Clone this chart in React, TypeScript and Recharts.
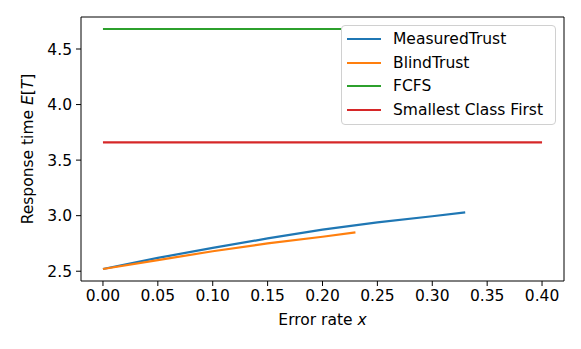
import React from "react";
import { LineChart, Line, XAxis, YAxis, Legend, ReferenceLine } from "recharts";

// Response time vs error rate
const measuredRates = [0, 0.05, 0.1, 0.15, 0.2, 0.25, 0.3, 0.33];
const measuredTrust = [2.52, 2.62, 2.71, 2.795, 2.875, 2.94, 2.995, 3.03];
const blindRates = [0, 0.05, 0.1, 0.15, 0.2, 0.23];
const blindTrust = [2.52, 2.6, 2.68, 2.75, 2.81, 2.85];
const baselineRates = [0, 0.4];
const fcfs = [4.68, 4.68];
const smallestClassFirst = [3.66, 3.66];

const xTicks = [0, 0.05, 0.1, 0.15, 0.2, 0.25, 0.3, 0.35, 0.4];
const yTicks = [2.5, 3.0, 3.5, 4.0, 4.5];
const xDomain = [-0.02, 0.42];
const yDomain = [2.412, 4.788];

const toPoints = (xs: number[], ys: number[]) =>
  xs.map((x, i) => ({ x, y: ys[i] }));

const series = [
  { name: "MeasuredTrust", color: "#1f77b4", data: toPoints(measuredRates, measuredTrust) },
  { name: "BlindTrust", color: "#ff7f0e", data: toPoints(blindRates, blindTrust) },
  { name: "FCFS", color: "#2ca02c", data: toPoints(baselineRates, fcfs) },
  { name: "Smallest Class First", color: "#d62728", data: toPoints(baselineRates, smallestClassFirst) },
];

const FONT = "'DejaVu Sans', sans-serif";
const FS = 15.5;

const XTitle = (props: any) => {
  const vb = props.viewBox || {};
  return (
    <text
      x={vb.x + vb.width / 2}
      y={vb.y + 44}
      textAnchor="middle"
      fontFamily={FONT}
      fontSize={FS}
      fill="#000"
    >
      Error rate <tspan fontStyle="italic">x</tspan>
    </text>
  );
};

const YTitle = (props: any) => {
  const vb = props.viewBox || {};
  const cx = 28;
  const cy = vb.y + vb.height / 2;
  return (
    <text
      x={cx}
      y={cy}
      transform={`rotate(-90, ${cx}, ${cy})`}
      textAnchor="middle"
      dominantBaseline="central"
      fontFamily={FONT}
      fontSize={FS}
      fill="#000"
    >
      Response time <tspan fontStyle="italic">E</tspan>[<tspan fontStyle="italic">T</tspan>]
    </text>
  );
};

// legend keeps the plotting order (recharts sorts by name otherwise)
const LegendBox = () => (
  <div
    style={{
      boxSizing: "border-box",
      width: 215,
      height: 100,
      border: "1px solid #d0d0d0",
      borderRadius: 4,
      background: "#fff",
      paddingTop: 1,
      fontFamily: FONT,
      fontSize: FS,
      color: "#000",
    }}
  >
    {series.map((s) => (
      <div key={s.name} style={{ display: "flex", alignItems: "center", height: 23.7 }}>
        <div style={{ marginLeft: 5, width: 34, height: 2, background: s.color }} />
        <span style={{ marginLeft: 12, whiteSpace: "nowrap" }}>{s.name}</span>
      </div>
    ))}
  </div>
);

export default function App() {
  return (
    <div style={{ position: "absolute", left: 0, top: 0, width: 581, height: 349, background: "#fff" }}>
      <LineChart width={581} height={349} margin={{ top: 17, right: 17, bottom: 0, left: 0 }}>
        <XAxis
          type="number"
          dataKey="x"
          domain={xDomain}
          ticks={xTicks}
          tickFormatter={(v: number) => v.toFixed(2)}
          height={68}
          allowDataOverflow
          axisLine={{ stroke: "#000", strokeWidth: 1 }}
          tickLine={{ stroke: "#000" }}
          tickSize={5}
          tickMargin={4}
          tick={{ fill: "#000", fontSize: FS, fontFamily: FONT }}
          label={{ content: (p: any) => <XTitle {...p} /> }}
        />
        <YAxis
          type="number"
          domain={yDomain}
          ticks={yTicks}
          tickFormatter={(v: number) => v.toFixed(1)}
          width={81}
          allowDataOverflow
          axisLine={{ stroke: "#000", strokeWidth: 1 }}
          tickLine={{ stroke: "#000" }}
          tickSize={5}
          tickMargin={4}
          tick={{ fill: "#000", fontSize: FS, fontFamily: FONT }}
          label={{ content: (p: any) => <YTitle {...p} /> }}
        />
        {/* top and right spines */}
        <ReferenceLine y={yDomain[1]} stroke="#000" strokeWidth={1} ifOverflow="visible" />
        <ReferenceLine x={xDomain[1]} stroke="#000" strokeWidth={1} ifOverflow="visible" />
        {series.map((s) => (
          <Line
            key={s.name}
            data={s.data}
            dataKey="y"
            name={s.name}
            type="linear"
            stroke={s.color}
            strokeWidth={2.2}
            dot={false}
            activeDot={false}
            isAnimationActive={false}
          />
        ))}
        <Legend
          layout="vertical"
          align="center"
          verticalAlign="middle"
          content={() => <LegendBox />}
          wrapperStyle={{ position: "absolute", left: 341, top: 25, width: 215, height: 100, zIndex: 2 }}
        />
      </LineChart>
    </div>
  );
}
